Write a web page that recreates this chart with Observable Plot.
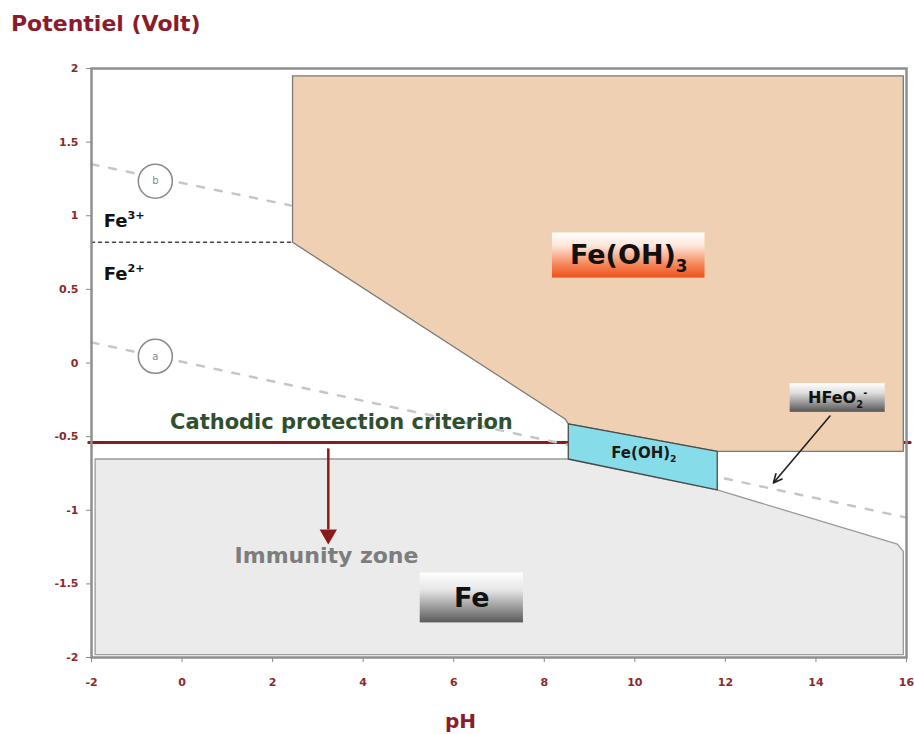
<!DOCTYPE html>
<html><head><meta charset="utf-8">
<script src="https://cdn.jsdelivr.net/npm/d3@7"></script>
<script src="https://cdn.jsdelivr.net/npm/@observablehq/plot@0.6"></script>
<style>
body{margin:0;background:#fff;}
#title{height:50px;box-sizing:border-box;padding:11px 0 0 11px;font:bold 22px "DejaVu Sans",sans-serif;color:#8b1c2c;line-height:26px;}
</style></head><body>
<div id="title">Potentiel (Volt)</div>
<div id="chart"></div>
<script>
// axis ticks
const xTicks = [-2, 0, 2, 4, 6, 8, 10, 12, 14, 16];
const yTicks = [-2, -1.5, -1, -0.5, 0, 0.5, 1, 1.5, 2];

// stability regions (pH, potential in V)
const feoh3PH = [2.44, 15.93, 15.93, 11.82, 8.53, 8.46, 2.44];
const feoh3E  = [1.95, 1.95, -0.60, -0.60, -0.414, -0.38, 0.82];
const feoh2PH = [8.53, 11.82, 11.82, 8.53];
const feoh2E  = [-0.414, -0.60, -0.862, -0.652];
const fePH = [-1.92, 8.53, 11.82, 15.80, 15.93, 15.93, -1.92];
const feE  = [-0.652, -0.652, -0.862, -1.23, -1.28, -1.98, -1.98];

// water lines a and b, Fe3+/Fe2+ boundary
const lineAPH = [-2, 16], lineAE = [0.14, -1.05];
const lineBPH = [-2, 2.4], lineBE = [1.35, 1.07];
const fe32PH = [-2, 2.44], fe32E = [0.82, 0.82];
const circleNames = ["a", "b"], circlePH = [-0.59, -0.59], circleE = [0.045, 1.235];

// cathodic protection criterion
const cathodicE = -0.54, cathodicPH = [-2.06, 16.08];
const immunityArrow = {pH: 3.23, e1: -0.58, e2: -1.13, tip: -1.165};
const hfeo2Arrow = {pH1: 14.31, e1: -0.36, pH2: 13.06, e2: -0.815};

// label boxes
const boxNames = ["Fe(OH)_{3}", "HFeO_{2}^{-}", "Fe"];
const boxPH1 = [8.18, 13.43, 5.26], boxPH2 = [11.55, 15.53, 7.54];
const boxE1 = [0.883, -0.14, -1.426], boxE2 = [0.577, -0.335, -1.765];
const boxFill = ["url(#gOrange)", "url(#gGrayS)", "url(#gGray)"];
const boxFont = [27, 16, 27];

const ionLabels = ["Fe^{3+}", "Fe^{2+}"];
const ionPH = [-1.73, -1.73], ionE = [0.964, 0.604];
const feoh2Label = "Fe(OH)_{2}", feoh2LabelPH = 10.2, feoh2LabelE = -0.61;

const poly = (ph, e) => { const p = ph.map((x, i) => ({x, y: e[i]})); p.push(p[0]); return p; };
const seg = (ph, e) => ph.map((x, i) => ({x, y: e[i]}));
const boxes = boxNames.map((name, i) => ({name, x1: boxPH1[i], x2: boxPH2[i], y1: boxE1[i], y2: boxE2[i], fill: boxFill[i], size: boxFont[i]}));
const ions = ionLabels.map((t, i) => ({t, x: ionPH[i], y: ionE[i]}));
const circles = circleNames.map((n, i) => ({n, x: circlePH[i], y: circleE[i]}));

const FONT = "DejaVu Sans";
const RED = "#8b1a1a";
const chart = Plot.plot({
  width: 914, height: 684,
  marginTop: 18, marginBottom: 77, marginLeft: 91, marginRight: 8,
  style: {fontFamily: FONT, background: "white", overflow: "visible"},
  x: {domain: [-2, 16]},
  y: {domain: [-2, 2]},
  marks: [
    Plot.line(seg(cathodicPH, [cathodicE, cathodicE]), {x: "x", y: "y", stroke: RED, strokeWidth: 3, clip: false}),
    Plot.line(seg(lineAPH, lineAE), {x: "x", y: "y", stroke: "#c6c6c6", strokeWidth: 2.5, strokeDasharray: "7,11"}),
    Plot.line(seg(lineBPH, lineBE), {x: "x", y: "y", stroke: "#c6c6c6", strokeWidth: 2.5, strokeDasharray: "7,11"}),
    Plot.line(poly(fePH, feE), {x: "x", y: "y", fill: "#ebebeb", stroke: "#9a9a9a", strokeWidth: 1.3}),
    Plot.line(poly(feoh3PH, feoh3E), {x: "x", y: "y", fill: "#efd0b2", stroke: "#7a7a7a", strokeWidth: 1.3}),
    Plot.line(poly(feoh2PH, feoh2E), {x: "x", y: "y", fill: "#86dde9", stroke: "#4a4a4a", strokeWidth: 1.3}),
    Plot.line(seg(fe32PH, fe32E), {x: "x", y: "y", stroke: "#444", strokeWidth: 1.6, strokeDasharray: "3,4"}),
    Plot.dot(circles, {x: "x", y: "y", r: 17, fill: "white", stroke: "#8a8a8a", strokeWidth: 1.5}),
    Plot.text(circles, {x: "x", y: "y", text: "n", fill: "#888", fontSize: 10}),
    Plot.rect(boxes, {x1: "x1", x2: "x2", y1: "y1", y2: "y2", fill: d => d.fill}),
    Plot.text(boxes, {x: d => (d.x1 + d.x2) / 2, y: d => (d.y1 + d.y2) / 2, text: "name", fontSize: d => d.size, fontWeight: "bold", fill: "#111"}),
    Plot.text(ions, {x: "x", y: "y", text: "t", textAnchor: "start", fontSize: 18, fontWeight: "bold", fill: "#111"}),
    Plot.text([feoh2Label], {x: feoh2LabelPH, y: feoh2LabelE, text: d => d, fontSize: 15, fontWeight: "bold", fill: "#1a1a1a"}),
    Plot.text(["Cathodic protection criterion"], {x: 3.52, y: -0.40, text: d => d, fontSize: 21, fontWeight: "bold", fill: "#2f4f2f"}),
    Plot.text(["Immunity zone"], {x: 3.19, y: -1.31, text: d => d, fontSize: 22, fontWeight: "bold", fill: "#7d7d7d"}),
    Plot.link([immunityArrow], {x1: "pH", x2: "pH", y1: "e1", y2: "e2", stroke: RED, strokeWidth: 2.5}),
    Plot.dot([immunityArrow], {x: "pH", y: "tip", symbol: "triangle", rotate: 180, r: 5.5, fill: RED, stroke: RED}),
    Plot.arrow([hfeo2Arrow], {x1: "pH1", y1: "e1", x2: "pH2", y2: "e2", stroke: "#222", strokeWidth: 1.6, headLength: 9, headAngle: 50}),
    Plot.axisY({ticks: yTicks, tickFormat: d => String(d), tickSize: 5, tickPadding: 8, stroke: "#888", fill: "#8b2a2a", fontSize: 11, fontWeight: "bold", label: null}),
    Plot.axisX({ticks: xTicks, tickFormat: d => String(d), tickSize: 5, tickPadding: 16, stroke: "#888", fill: "#8b2a2a", fontSize: 11, fontWeight: "bold", label: null}),
    Plot.text(["pH"], {x: 6.15, y: -2, dy: 64, text: d => d, fontSize: 20, fontWeight: "bold", fill: "#8b1c2c", clip: false}),
    Plot.frame({stroke: "#8f8f8f", strokeWidth: 2.5})
  ]
});
document.getElementById("chart").appendChild(chart);
const svg = d3.select(chart);
const defs = svg.insert("defs", ":first-child");
function grad(id, stops) {
  const g = defs.append("linearGradient").attr("id", id).attr("x1", 0).attr("y1", 0).attr("x2", 0).attr("y2", 1);
  stops.forEach(([o, c]) => g.append("stop").attr("offset", o).attr("stop-color", c));
}
grad("gOrange", [[0, "#ffffff"], [0.3, "#fde5d8"], [0.7, "#f6875a"], [1, "#ee5019"]]);
grad("gGray", [[0, "#ffffff"], [0.35, "#e6e6e6"], [1, "#5a5a5a"]]);
grad("gGrayS", [[0, "#ffffff"], [0.35, "#dcdcdc"], [1, "#555555"]]);
// rich text: ^{..} superscript, _{..} subscript
svg.selectAll("text").each(function () {
  const s = this.textContent;
  if (!/[\^_]\{/.test(s)) return;
  const fs = parseFloat(getComputedStyle(this).fontSize);
  const el = d3.select(this);
  el.text(null);
  const re = /([\^_])\{([^}]*)\}/g;
  let last = 0, m, shift = 0;
  while ((m = re.exec(s))) {
    if (m.index > last) { el.append("tspan").attr("dy", -shift).text(s.slice(last, m.index)); shift = 0; }
    const d = (m[1] === "^" ? -0.42 : 0.28) * fs;
    el.append("tspan").attr("font-size", fs * 0.62).attr("dy", d - shift).text(m[2]);
    shift = d;
    last = re.lastIndex;
  }
  if (last < s.length) el.append("tspan").attr("dy", -shift).text(s.slice(last));
});
</script>
</body></html>
